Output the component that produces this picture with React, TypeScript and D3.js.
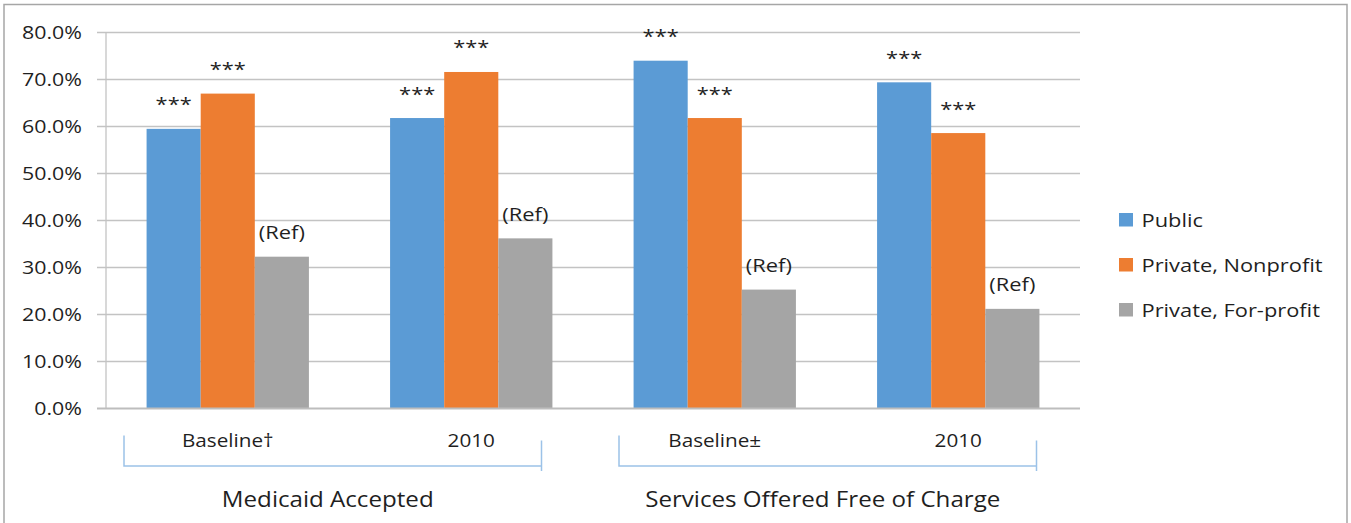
import React from "react";
import * as d3 from "d3";

// ---- data ----
const categories = ["Baseline†", "2010", "Baseline±", "2010"];
const seriesNames = ["Public", "Private, Nonprofit", "Private, For-profit"];
const publicValues = [0.595, 0.618, 0.740, 0.694];
const nonprofitValues = [0.670, 0.716, 0.618, 0.586];
const forprofitValues = [0.323, 0.362, 0.253, 0.212];
const publicLabels = ["***", "***", "***", "***"];
const nonprofitLabels = ["***", "***", "***", "***"];
const forprofitLabels = ["(Ref)", "(Ref)", "(Ref)", "(Ref)"];
const yTickValues = [0, 0.1, 0.2, 0.3, 0.4, 0.5, 0.6, 0.7, 0.8];
const groupLabels = ["Medicaid Accepted", "Services Offered Free of Charge"];
const groupSpans = [[0, 1], [2, 3]];

// ---- layout ----
const W = 1351;
const H = 523;
const PLOT = { left: 106, right: 1080, top: 32.5, bottom: 408.5 };
const COLORS = ["#5B9BD5", "#ED7D31", "#A5A5A5"];
const FONT = "'Open Sans', 'Noto Sans', sans-serif";
const SX = 1.15;
const TEXT = "#1f1f1f";
const bracketInsets = [
  [18, 51.5],
  [26, 43.5],
];

function SText(props: {
  x: number;
  y: number;
  size: number;
  anchor?: string;
  fill?: string;
  children: React.ReactNode;
}) {
  const { x, y, size, anchor = "middle", fill = TEXT, children } = props;
  return (
    <text
      transform={`translate(${x},${y}) scale(${SX},1)`}
      fontSize={size}
      textAnchor={anchor}
      fill={fill}
      fontFamily={FONT}
    >
      {children}
    </text>
  );
}

export default function App() {
  const series = [publicValues, nonprofitValues, forprofitValues];
  const labels = [publicLabels, nonprofitLabels, forprofitLabels];
  const idx = categories.map((_, i) => String(i));

  const x0 = d3
    .scaleBand<string>()
    .domain(idx)
    .range([PLOT.left, PLOT.right])
    .paddingInner(0)
    .paddingOuter(0);
  const x1 = d3
    .scaleBand<string>()
    .domain(seriesNames)
    .range([0, x0.bandwidth()])
    .paddingInner(0)
    .paddingOuter(0.75);
  const y = d3.scaleLinear().domain([0, 0.8]).range([PLOT.bottom, PLOT.top]);
  const fmt = d3.format(".1%");

  return (
    <svg
      width={W}
      height={H}
      style={{ position: "absolute", left: 0, top: 0, background: "#fff" }}
    >
      <rect x={0} y={0} width={W} height={H} fill="#fff" />
      {/* outer border */}
      <rect
        x={4}
        y={4.5}
        width={1343}
        height={540}
        fill="none"
        stroke="#a6a6a6"
        strokeWidth={1.5}
      />

      {/* gridlines */}
      {yTickValues.map((t) =>
        t === 0 ? null : (
          <line
            key={"g" + t}
            x1={97}
            x2={PLOT.right}
            y1={y(t)}
            y2={y(t)}
            stroke="#c3c3c3"
            strokeWidth={1.3}
          />
        )
      )}
      {/* y axis line */}
      <line
        x1={PLOT.left}
        x2={PLOT.left}
        y1={PLOT.top}
        y2={PLOT.bottom}
        stroke="#c3c3c3"
        strokeWidth={1.3}
      />

      {/* tick labels */}
      {yTickValues.map((t) => (
        <SText key={"t" + t} x={82} y={y(t) + 6.7} size={18.6} anchor="end">
          {fmt(t)}
        </SText>
      ))}

      {/* bars */}
      {series.map((vals, s) =>
        vals.map((v, i) => (
          <rect
            key={`b${s}-${i}`}
            x={(x0(String(i)) as number) + (x1(seriesNames[s]) as number)}
            y={y(v)}
            width={x1.bandwidth()}
            height={y(0) - y(v)}
            fill={COLORS[s]}
          />
        ))
      )}

      {/* zero axis */}
      <line
        x1={97}
        x2={PLOT.right}
        y1={y(0)}
        y2={y(0)}
        stroke="#bdbdbd"
        strokeWidth={2}
      />

      {/* bar labels */}
      {series.map((vals, s) =>
        vals.map((v, i) => (
          <SText
            key={`l${s}-${i}`}
            x={
              (x0(String(i)) as number) +
              (x1(seriesNames[s]) as number) +
              x1.bandwidth() / 2
            }
            y={y(v) - 17.5}
            size={19}
          >
            {labels[s][i]}
          </SText>
        ))
      )}

      {/* category labels */}
      {categories.map((c, i) => (
        <SText
          key={"c" + i}
          x={(x0(String(i)) as number) + x0.bandwidth() / 2}
          y={447}
          size={18}
        >
          {c}
        </SText>
      ))}

      {/* group brackets */}
      {groupSpans.map(([a, b], g) => {
        const xa = (x0(String(a)) as number) + bracketInsets[g][0];
        const xb =
          (x0(String(b)) as number) + x0.bandwidth() - bracketInsets[g][1];
        return (
          <g key={"br" + g}>
            <path
              d={`M${xa},435.5 V466 H${xb} M${xb},440.5 V471`}
              fill="none"
              stroke="#9cc2e8"
              strokeWidth={1.5}
            />
            <SText x={(xa + xb) / 2 - 5} y={506.5} size={21}>
              {groupLabels[g]}
            </SText>
          </g>
        );
      })}

      {/* legend */}
      {seriesNames.map((n, s) => {
        const cy = 219.5 + s * 45;
        return (
          <g key={"lg" + s}>
            <rect x={1119} y={cy - 6.5} width={14} height={13.5} fill={COLORS[s]} />
            <SText x={1141.5} y={cy + 7.2} size={19} anchor="start">
              {n}
            </SText>
          </g>
        );
      })}
    </svg>
  );
}
